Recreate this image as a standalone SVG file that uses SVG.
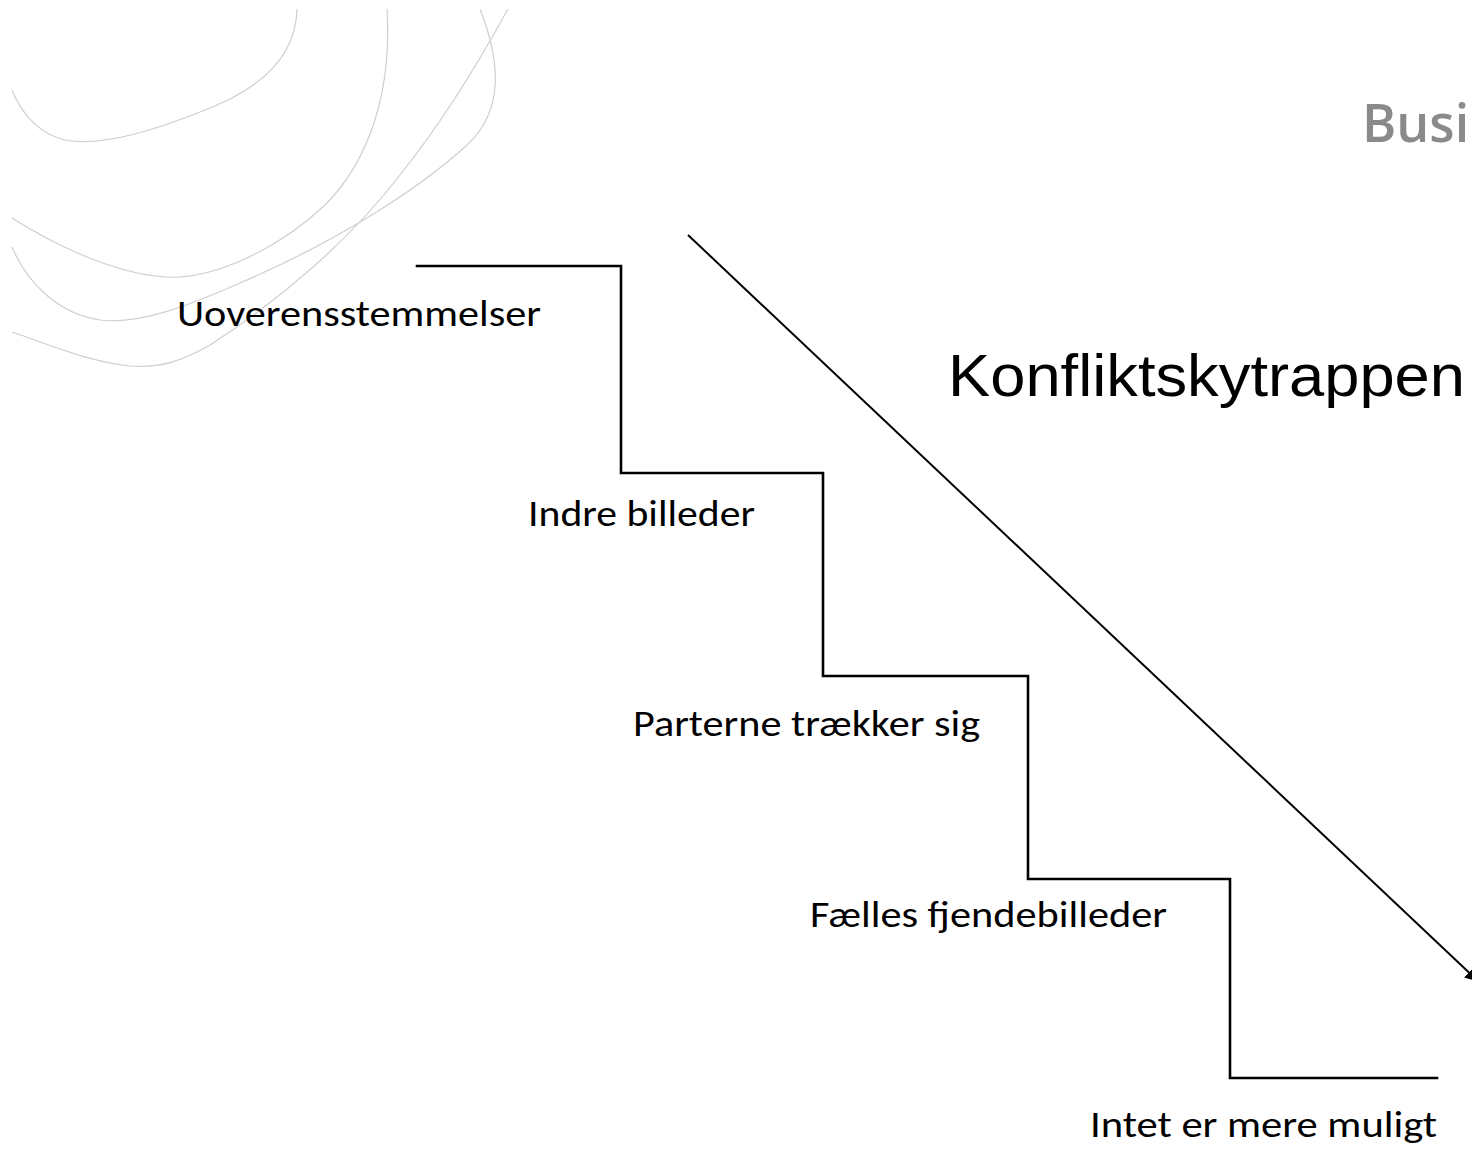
<svg xmlns="http://www.w3.org/2000/svg" width="1472" height="1149" viewBox="0 0 1472 1149">
  <style>
    .swirl { fill: none; stroke: #cfcfcf; stroke-width: 1.2; }
    .step { fill: none; stroke: #000; stroke-width: 2.6; stroke-linecap: square; }
    .diag { fill: none; stroke: #000; stroke-width: 2; }
    .label { font-family: Carlito, "Open Sans", "Liberation Sans", sans-serif; font-size: 37px; fill: #000; }
    .title { font-family: "Liberation Sans", Arial, sans-serif; font-size: 60px; fill: #000; }
    .brand { font-family: "Open Sans", "Liberation Sans", sans-serif; font-size: 52px; font-weight: 600; fill: #8a8a8a; }
  </style>
  <defs>
    <marker id="arrow" viewBox="0 0 10 10" refX="9" refY="5" markerWidth="7" markerHeight="7" orient="auto" markerUnits="strokeWidth">
      <path d="M0,0 L10,5 L0,10 z" fill="#000"/>
    </marker>
  </defs>

  <rect width="1472" height="1149" fill="#fff"/>

  <!-- decorative swirls, top left -->
  <g id="swirls">
    <path class="swirl" d="M297,9 C296,60 255,92 200,112 C150,132 100,147 65,140 C40,134 22,115 12,90"/>
    <path class="swirl" d="M387,9 C392,90 370,160 325,205 C275,252 210,280 165,277 C110,273 50,242 12,218"/>
    <path class="swirl" d="M480,9 C500,60 505,110 467,145 C420,188 340,240 240,283 C190,305 140,325 100,320 C60,314 28,285 12,247"/>
    <path class="swirl" d="M508,9 C480,60 440,125 400,175 C350,240 280,300 210,345 C180,362 160,368 130,366 C90,362 50,345 12,332"/>
  </g>

  <!-- brand wordmark, top right (runs off the page edge) -->
  <g id="brand">
    <text class="brand" x="1362" y="142">Busin</text>
  </g>

  <g id="title">
    <text class="title" x="948" y="396" textLength="517" lengthAdjust="spacingAndGlyphs">Konfliktskytrappen</text>
  </g>

  <!-- connectors: staircase and escalation arrow -->
  <g id="connectors">
    <path class="step" d="M417,266 H621 V473 H823 V676 H1028 V879 H1230 V1078 H1437"/>
    <line class="diag" x1="688" y1="235" x2="1478" y2="981" marker-end="url(#arrow)"/>
  </g>

  <g id="step1">
    <text class="label" x="177" y="326" textLength="364" lengthAdjust="spacingAndGlyphs">Uoverensstemmelser</text>
  </g>
  <g id="step2">
    <text class="label" x="528" y="526" textLength="227" lengthAdjust="spacingAndGlyphs">Indre billeder</text>
  </g>
  <g id="step3">
    <text class="label" x="633" y="736" textLength="347" lengthAdjust="spacingAndGlyphs">Parterne trækker sig</text>
  </g>
  <g id="step4">
    <text class="label" x="810" y="927" textLength="357" lengthAdjust="spacingAndGlyphs">Fælles fjendebilleder</text>
  </g>
  <g id="step5">
    <text class="label" x="1090" y="1137" textLength="347" lengthAdjust="spacingAndGlyphs">Intet er mere muligt</text>
  </g>
</svg>
